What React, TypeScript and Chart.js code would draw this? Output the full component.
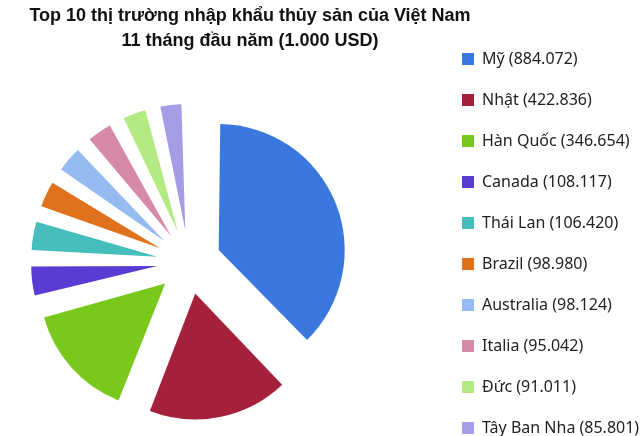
import React, { useEffect, useRef } from "react";
import { Chart, registerables } from "chart.js";

Chart.register(...registerables);

const TITLE_LINES = ["Top 10 thị trường nhập khẩu thủy sản của Việt Nam", "11 tháng đầu năm (1.000 USD)"];
const MARKETS = ["Mỹ", "Nhật", "Hàn Quốc", "Canada", "Thái Lan", "Brazil", "Australia", "Italia", "Đức", "Tây Ban Nha"];
const VALUES = [884072, 422836, 346654, 108117, 106420, 98980, 98124, 95042, 91011, 85801];
const COLORS = ["#3A78DD", "#A5213B", "#79C81C", "#5A3CD4", "#45BEBC", "#E0721E", "#95BBF0", "#D789A8", "#B3EA82", "#A49DE5"];

const PIE_RADIUS = 126;
const EXPLODE = 32; // visible outward shift of every slice

function fmt(v: number): string {
  return String(v).replace(/\B(?=(\d{3})+(?!\d))/g, ".");
}

const LABELS = MARKETS.map((m, i) => `${m} (${fmt(VALUES[i])})`);

// Chart.js grows an offset arc's radius a little; keep all slices at the same visible radius
const radiusFix = {
  id: "radiusFix",
  beforeDatasetsDraw(chart: any) {
    const meta = chart.getDatasetMeta(0);
    meta.data.forEach((arc: any) => {
      const off = (arc.options.offset || 0) / 4;
      const fix = 1 - Math.sin(Math.min(Math.PI, arc.circumference || 0));
      arc.outerRadius = PIE_RADIUS - off * fix;
    });
  },
};

export default function App() {
  const ref = useRef<HTMLCanvasElement | null>(null);

  useEffect(() => {
    document.body.style.margin = "0";
    if (!ref.current) return;
    const baseLabels = (Chart as any).overrides.doughnut.plugins.legend.labels.generateLabels;
    const chart = new Chart(ref.current, {
      type: "pie",
      data: {
        labels: LABELS,
        datasets: [
          {
            data: VALUES,
            backgroundColor: COLORS,
            borderWidth: 0,
            offset: EXPLODE * 4,
          },
        ],
      },
      options: {
        responsive: false,
        animation: false,
        radius: PIE_RADIUS,
        layout: { padding: { left: -140, right: 0, top: 41, bottom: -40 } },
        plugins: {
          title: {
            display: true,
            text: TITLE_LINES,
            position: "top",
            fullSize: true,
            color: "#111",
            font: { family: '"Liberation Sans", Arial, sans-serif', size: 18, weight: "bold", lineHeight: "25px" },
            padding: { top: -37, bottom: 34 },
          },
          subtitle: {
            display: true,
            text: " ",
            position: "right",
            fullSize: false,
            weight: 500,
            font: { size: 10, lineHeight: 1 },
            padding: { top: 32, bottom: 32 },
          },
          tooltip: { enabled: false },
          legend: {
            display: true,
            position: "right",
            align: "start",
            fullSize: true,
            maxWidth: 188,
            labels: {
              boxWidth: 12,
              boxHeight: 12,
              padding: 10,
              color: "#222",
              font: { family: '"Noto Sans", sans-serif', size: 16, lineHeight: "31px" },
              generateLabels: (c: any) => baseLabels(c).map((l: any) => ({ ...l, text: [l.text] })),
            },
          },
        },
      } as any,
      plugins: [radiusFix],
    });
    return () => chart.destroy();
  }, []);

  return (
    <div style={{ width: 640, height: 436, position: "relative", background: "#fff" }}>
      <canvas ref={ref} width={640} height={436} />
    </div>
  );
}
